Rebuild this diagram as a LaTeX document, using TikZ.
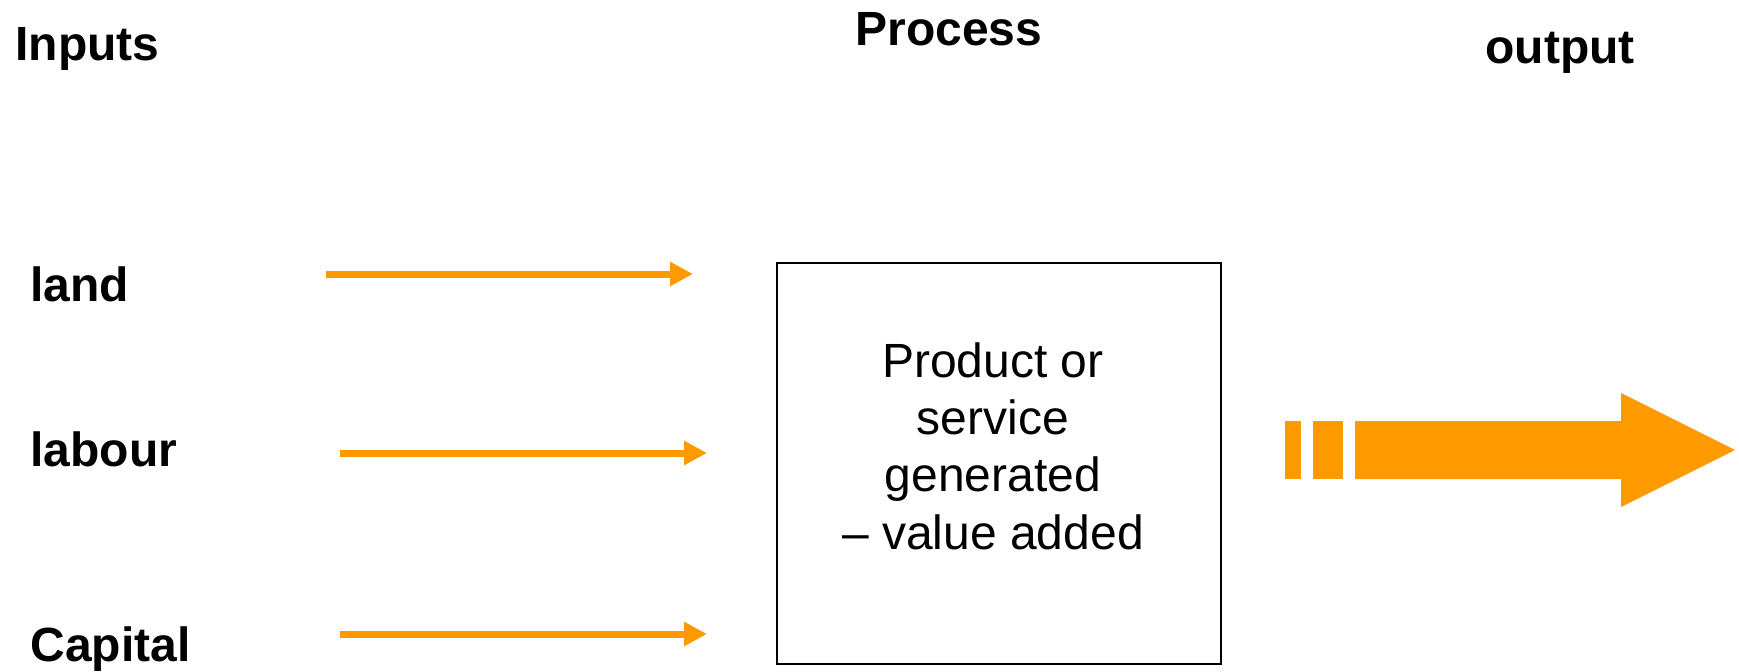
\documentclass[tikz,border=0pt]{standalone}
\usepackage{fontspec}
\setmainfont{Liberation Sans}
\usetikzlibrary{arrows.meta}
\definecolor{flow}{RGB}{255,153,0}
\tikzset{
  head/.style={anchor=base west, inner sep=0pt, font=\fontsize{24}{28.8}\selectfont\bfseries},
  feed/.style={draw=flow, line width=3.5pt, -{Triangle[length=11.5pt, width=11.5pt]}}
}

\begin{document}
\begin{tikzpicture}[x=0.5pt, y=0.5pt, yscale=-1, xscale=1]
\useasboundingbox (0, 0) rectangle (1739, 671);
%Text
\draw (15, 60) node (inputs) [head] {Inputs};
\draw (855, 45) node (process) [head] {Process};
\draw (1485, 63) node (output) [head] {output};
\draw (30, 301) node (land) [head] {land};
\draw (30, 466) node (labour) [head] {labour};
\draw (30, 661) node (capital) [head] {Capital};
%Box
\draw (999, 463.5) node (box) [draw, line width=1pt, minimum width=222pt, minimum height=200.5pt, inner sep=0pt] {};
\draw (993, 549) node (value) [anchor=base, inner sep=0pt, align=center, font=\fontsize{24}{28.6}\selectfont] {Product or\\service\\generated\\-- value added};
%Arrows
\coordinate (land0) at (326, 274);
\coordinate (land1) at (693, 274);
\coordinate (labour0) at (340, 453);
\coordinate (labour1) at (707, 453);
\coordinate (capital0) at (340, 634);
\coordinate (capital1) at (707, 634);
\draw [feed] (land0) -- (land1);
\draw [feed] (labour0) -- (labour1);
\draw [feed] (capital0) -- (capital1);
%Output arrow
\fill [flow] (1285, 421) rectangle (1301, 479);
\fill [flow] (1313, 421) rectangle (1343, 479);
\fill [flow] (1355, 421) -- (1621, 421) -- (1621, 393) -- (1735, 450) -- (1621, 507) -- (1621, 479) -- (1355, 479) -- cycle;
\end{tikzpicture}
\end{document}
